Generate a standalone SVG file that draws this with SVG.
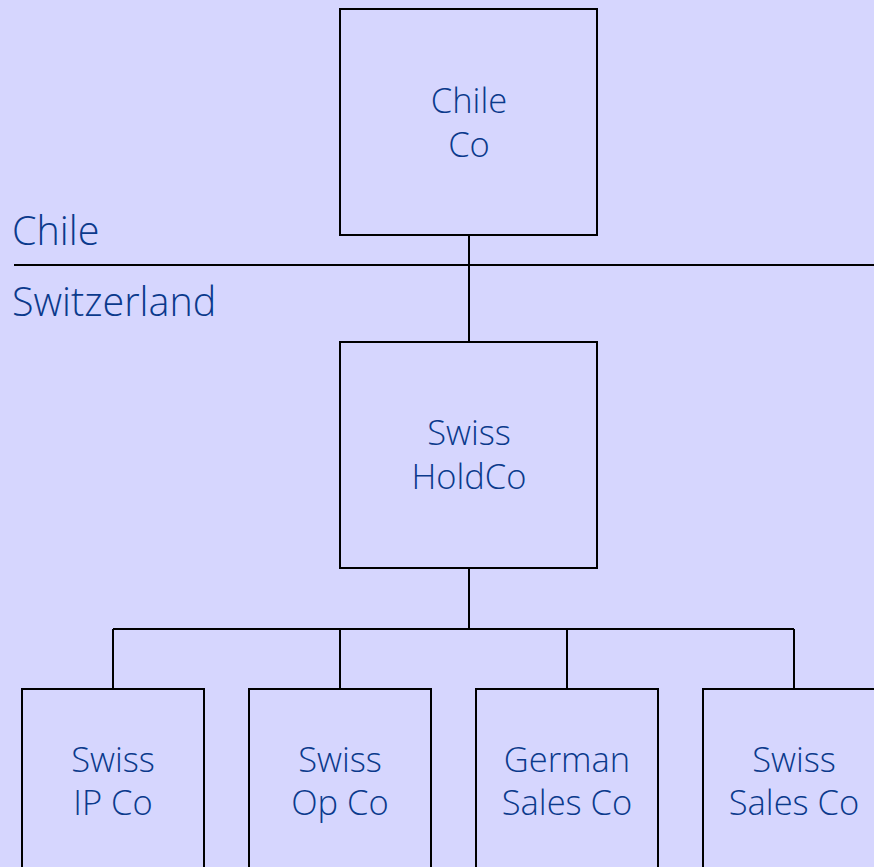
<svg xmlns="http://www.w3.org/2000/svg" width="874" height="867" viewBox="0 0 874 867">
  <style>
    .box { fill: #D6D6FE; stroke: #000; stroke-width: 2; }
    .lbl { font-family: "Open Sans", "Noto Sans", sans-serif; font-weight: 350; font-size: 34.5px; fill: #0B3A8C; text-anchor: middle; }
    .region { font-family: "Open Sans", "Noto Sans", sans-serif; font-weight: 350; font-size: 39.5px; fill: #0B3A8C; }
    .wire { fill: none; stroke: #000; stroke-width: 2; }
  </style>
  <rect width="874" height="867" fill="#D6D6FE"/>

  <!-- jurisdiction divider -->
  <g id="border">
    <line class="wire" x1="14" y1="265" x2="874" y2="265"/>
    <text class="region" x="12" y="245">Chile</text>
    <text class="region" x="12" y="316">Switzerland</text>
  </g>

  <!-- ownership lines -->
  <g id="connectors">
    <line class="wire" x1="469" y1="235" x2="469" y2="342"/>
    <line class="wire" x1="469" y1="568" x2="469" y2="629"/>
    <line class="wire" x1="113" y1="629" x2="794" y2="629"/>
    <line class="wire" x1="113" y1="629" x2="113" y2="689"/>
    <line class="wire" x1="340" y1="629" x2="340" y2="689"/>
    <line class="wire" x1="567" y1="629" x2="567" y2="689"/>
    <line class="wire" x1="794" y1="629" x2="794" y2="689"/>
  </g>

  <g id="chile-co">
    <rect class="box" x="340" y="9" width="257" height="226"/>
    <text class="lbl" x="469" y="113">Chile</text>
    <text class="lbl" x="469" y="157">Co</text>
  </g>

  <g id="swiss-holdco">
    <rect class="box" x="340" y="342" width="257" height="226"/>
    <text class="lbl" x="469" y="445">Swiss</text>
    <text class="lbl" x="469" y="489">HoldCo</text>
  </g>

  <g id="swiss-ip-co">
    <rect class="box" x="22" y="689" width="182" height="200"/>
    <text class="lbl" x="113" y="772">Swiss</text>
    <text class="lbl" x="113" y="815">IP Co</text>
  </g>

  <g id="swiss-op-co">
    <rect class="box" x="249" y="689" width="182" height="200"/>
    <text class="lbl" x="340" y="772">Swiss</text>
    <text class="lbl" x="340" y="815">Op Co</text>
  </g>

  <g id="german-sales-co">
    <rect class="box" x="476" y="689" width="182" height="200"/>
    <text class="lbl" x="567" y="772">German</text>
    <text class="lbl" x="567" y="815">Sales Co</text>
  </g>

  <g id="swiss-sales-co">
    <rect class="box" x="703" y="689" width="182" height="200"/>
    <text class="lbl" x="794" y="772">Swiss</text>
    <text class="lbl" x="794" y="815">Sales Co</text>
  </g>
</svg>
